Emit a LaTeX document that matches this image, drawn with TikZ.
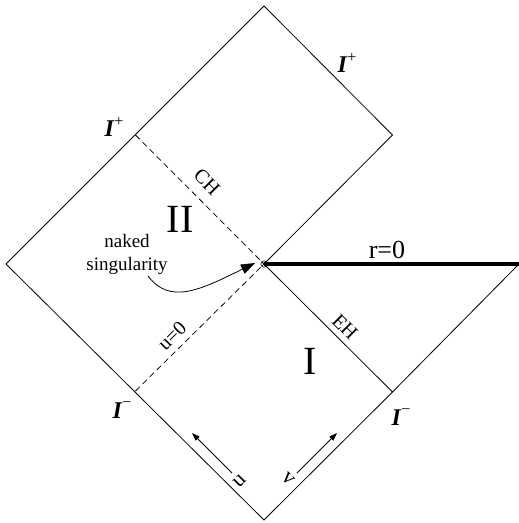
\documentclass[tikz,border=0pt]{standalone}
\usepackage{fontspec}
\setmainfont{Liberation Serif}
\usetikzlibrary{arrows.meta,calc}
\newcommand{\scrip}{{\bfseries\itshape I}\kern0.5pt\raisebox{0.42em}{\fontsize{16}{16}\selectfont +}}
\newcommand{\scrim}{{\bfseries\itshape I}\kern0.5pt\raisebox{0.45em}{\fontsize{16}{16}\selectfont −}}
\begin{document}
\begin{tikzpicture}[x=1pt,y=-1pt,
  edge/.style={draw, line width=0.8pt},
  horizon/.style={draw, line width=0.75pt, dash pattern=on 6pt off 4pt},
  sing/.style={draw, line width=3.6pt},
  lbl/.style={inner sep=0pt, font=\fontsize{20}{20}\selectfont},
  big/.style={inner sep=0pt, font=\fontsize{26}{26}\selectfont},
  region/.style={inner sep=0pt, font=\fontsize{40}{40}\selectfont},
  scri/.style={inner sep=0pt, font=\fontsize{24}{24}\selectfont},
  note/.style={inner sep=0pt, align=center, font=\fontsize{19}{23}\selectfont},
  dirarrow/.style={draw, line width=0.8pt, -{Triangle[length=8pt,width=5.5pt]}},
  pointer/.style={draw, line width=0.8pt, -{Triangle[length=14pt,width=10pt]}}]
\useasboundingbox (0,0) rectangle (519,523);
\coordinate (T) at (264,6);
\coordinate (UR) at (392.5,135);
\coordinate (O) at (264,264);
\coordinate (L) at (6,264);
\coordinate (B) at (264,520);
\coordinate (LR) at (392.5,392);
\coordinate (R) at (519,264);
\coordinate (CHs) at (135.5,135);
\coordinate (U0s) at (135.5,391);
% outline
\draw[edge] (L) -- (T) -- (UR) -- (O) -- (LR) -- (R);
\draw[edge] (L) -- (B) -- (LR);
% singularity
\draw[sing] (O) -- (R);
% horizons
\draw[horizon] (CHs) -- (O);
\draw[horizon] (U0s) -- (O);
% small marker
\draw[line width=0.6pt] (O) circle (3.2pt);
\draw[line width=0.5pt] ($(O)+(-2.2,-2.2)$) -- ($(O)+(2.2,2.2)$);
\draw[line width=0.5pt] ($(O)+(-2.2,2.2)$) -- ($(O)+(2.2,-2.2)$);
% labels
\node[lbl, rotate=-45] (ch) at (207,182) {CH};
\node[lbl, rotate=-45] (eh) at (345,327) {EH};
\node[lbl, rotate=45] (u0) at (172,336) {u=0};
\node[big] (r0) at (387,250) {r=0};
\node[region] (II) at (180,219) {II};
\node[region] (I) at (310,361) {I};
\node[note] (naked) at (127,254) {naked\\singularity};
\node[scri] (s1) at (347,63) {\scrip};
\node[scri] (s2) at (114,127) {\scrip};
\node[scri] (s3) at (122,410) {\scrim};
\node[scri] (s4) at (401,417) {\scrim};
% pointer
\coordinate (ps) at (148,276);
\coordinate (pe) at (255,263);
\draw[pointer] (ps) .. controls (170,305) and (200,290) .. (pe);
% u, v arrows
\coordinate (ua) at (232,473);
\coordinate (ub) at (192,433);
\coordinate (va) at (297,473);
\coordinate (vb) at (337,433);
\draw[dirarrow] (ua) -- (ub);
\draw[dirarrow] (va) -- (vb);
\node[lbl, rotate=45, font=\fontsize{22}{22}\selectfont] (ul) at (240,481) {u};
\node[lbl, rotate=-45, font=\fontsize{22}{22}\selectfont] (vl) at (288,479) {v};
\end{tikzpicture}
\end{document}
